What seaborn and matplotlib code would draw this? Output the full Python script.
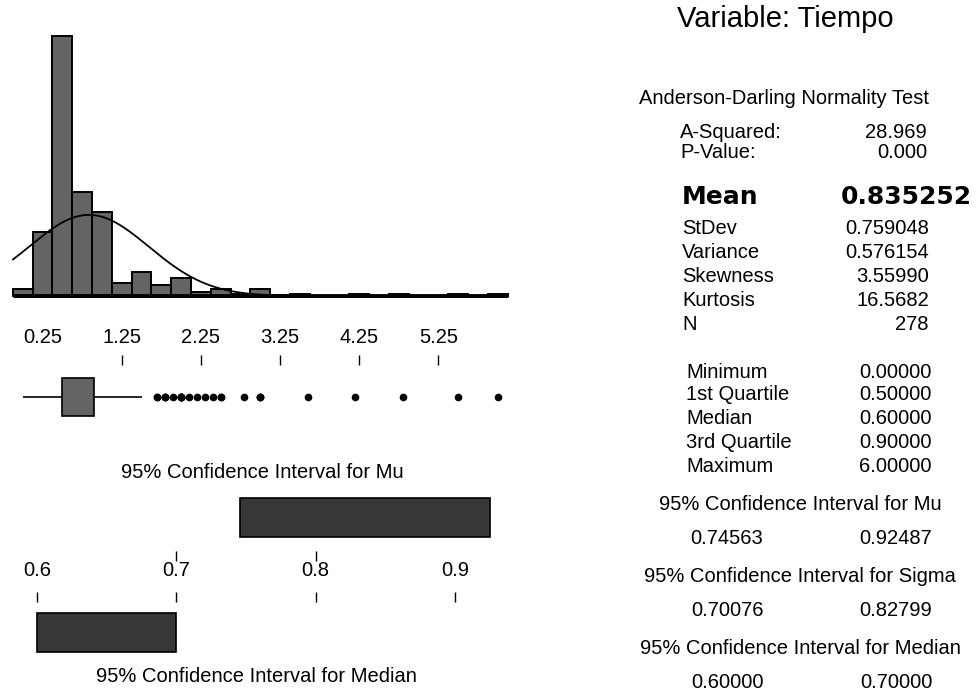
import numpy as np
import matplotlib
matplotlib.use("Agg")
import matplotlib.pyplot as plt
import seaborn as sns

# ---------------- data ----------------
values = [0.0, 0.1, 0.2, 0.3, 0.4, 0.5, 0.6, 0.7, 0.8, 0.9, 1.0, 1.1, 1.2, 1.3,
          1.4, 1.5, 1.7, 1.8, 1.9, 2.0, 2.1, 2.2, 2.3, 2.4, 2.5, 2.8, 3.0, 3.6,
          4.2, 4.8, 5.5, 6.0]
counts = [2, 1, 14, 15, 20, 50, 47, 30, 17, 25, 12, 1, 4, 2,
          5, 6, 2, 3, 1, 6, 1, 1, 1, 1, 2, 1, 3, 1,
          1, 1, 1, 1]
bin_width = 0.25
hist_ticks = [0.25, 1.25, 2.25, 3.25, 4.25, 5.25]
hist_marks = [1.25, 2.25, 3.25, 4.25, 5.25]

mean_val = 0.835252
stdev_val = 0.759048

ci_ticks = [0.6, 0.7, 0.8, 0.9]
ci_upper_marks = [0.7, 0.8]
ci_mu = [0.74563, 0.92487]
ci_sigma = [0.70076, 0.82799]
ci_median = [0.60000, 0.70000]

title = "Variable: Tiempo"
ad_labels = ["A-Squared:", "P-Value:"]
ad_values = ["28.969", "0.000"]
stat_labels = ["StDev", "Variance", "Skewness", "Kurtosis", "N"]
stat_values = ["0.759048", "0.576154", "3.55990", "16.5682", "278"]
quant_labels = ["Minimum", "1st Quartile", "Median", "3rd Quartile", "Maximum"]
quant_values = ["0.00000", "0.50000", "0.60000", "0.90000", "6.00000"]

# ---------------- style ----------------
sns.set_style("white")
plt.rcParams["font.family"] = ["Liberation Sans", "DejaVu Sans"]
plt.rcParams["text.color"] = "black"
plt.rcParams["xtick.color"] = "black"
plt.rcParams["xtick.labelcolor"] = "black"
FS = 14.5
BAR = "#646464"
CIBAR = "#383838"

W, H = 976, 695
fig = plt.figure(figsize=(W / 100, H / 100), dpi=100)


def rect(x0, y0, x1, y1):
    return [x0 / W, 1 - y1 / H, (x1 - x0) / W, (y1 - y0) / H]


def fx(x):
    return x / W


def fy(y):
    return 1 - y / H


px0, ppu = 22.8, 79.15
xlim = (-px0 / ppu, (530 - px0) / ppu)

data = np.repeat(np.array(values), counts)
edges = np.arange(-0.125, 6.126, bin_width)

# ---------------- histogram + normal curve ----------------
ax_h = fig.add_axes(rect(0, 20, 530, 298))
sns.histplot(x=data, bins=edges, ax=ax_h, color=BAR, edgecolor="black",
             linewidth=1.4, alpha=1)
xs = np.linspace(edges[0], edges[-1], 400)
ys = len(data) * bin_width * np.exp(-0.5 * ((xs - mean_val) / stdev_val) ** 2) / (
    stdev_val * np.sqrt(2 * np.pi))
sns.lineplot(x=xs, y=ys, ax=ax_h, color="black", linewidth=1.3)
ax_h.hlines(0, edges[0], edges[-1], color="black", linewidth=3.5)
ax_h.set_xlim(xlim)
ax_h.set_ylim(-0.9, 124.3)
ax_h.axis("off")

# ---------------- boxplot ----------------
ax_b = fig.add_axes(rect(0, 372, 530, 422))
sns.boxplot(x=data, ax=ax_b, color=BAR, saturation=1, width=0.76,
            linecolor="black", linewidth=1.2, fliersize=4.5, showcaps=False,
            medianprops=dict(color=BAR, linewidth=0),
            flierprops=dict(marker="o", markerfacecolor="black",
                            markeredgecolor="black"))
ax_b.set_xlim(xlim)
ax_b.set_ylim(0.5, -0.5)
for s in ax_b.spines.values():
    s.set_visible(False)
ax_b.spines["top"].set_position(("outward", 5))
ax_b.set_yticks([])
ax_b.set_xlabel("")
ax_b.set_ylabel("")
ax_b.xaxis.remove_overlapping_locs = False
ax_b.xaxis.set_ticks_position("top")
ax_b.set_xticks(hist_ticks, [f"{t:.2f}" for t in hist_ticks])
ax_b.set_xticks(hist_marks, minor=True)
ax_b.tick_params(axis="x", which="major", length=0, pad=13, labelsize=FS,
                 top=True, bottom=False, labeltop=True, labelbottom=False)
ax_b.tick_params(axis="x", which="minor", length=7.2, width=1, direction="out",
                 top=True, bottom=False, color="black")

# ---------------- confidence interval panel ----------------
ci_px0, ci_ppu = 37, 1393
ci_xlim = (0.6 - ci_px0 / ci_ppu, 0.6 + (530 - ci_px0) / ci_ppu)
ax_c = fig.add_axes(rect(0, 455, 530, 695))
ax_c.set_xlim(ci_xlim)
ax_c.set_ylim(695, 455)
ax_c.barh([517.5], [ci_mu[1] - ci_mu[0]], left=[ci_mu[0]], height=39,
          color=CIBAR, edgecolor="black", linewidth=1.2)
ax_c.barh([632.5], [ci_median[1] - ci_median[0]], left=[ci_median[0]], height=39,
          color=CIBAR, edgecolor="black", linewidth=1.2)
for s in ax_c.spines.values():
    s.set_visible(False)
ax_c.spines["bottom"].set_position(("data", 592))
ax_c.spines["top"].set_position(("data", 561))
ax_c.set_yticks([])
ax_c.xaxis.remove_overlapping_locs = False
ax_c.set_xticks(ci_ticks)
ax_c.set_xticks(ci_upper_marks, minor=True)
ax_c.tick_params(axis="x", which="major", bottom=True, top=False, length=7.2,
                 width=1, direction="out", labelbottom=False, labeltop=False)
ax_c.tick_params(axis="x", which="minor", bottom=False, top=True, length=7.2,
                 width=1, direction="out")
for t in ci_ticks:
    ax_c.text(t, 571, f"{t:.1f}", ha="center", va="center", fontsize=FS)

fig.text(fx(262), fy(473), "95% Confidence Interval for Mu", ha="center",
         va="center", fontsize=FS)
fig.text(fx(256), fy(677), "95% Confidence Interval for Median", ha="center",
         va="center", fontsize=FS)

# ---------------- right-hand statistics column ----------------
fig.text(fx(785), fy(19), title, ha="center", va="center", fontsize=21)
fig.text(fx(784), fy(98), "Anderson-Darling Normality Test", ha="center",
         va="center", fontsize=FS)
for lab, val, y in zip(ad_labels, ad_values, [132, 153]):
    fig.text(fx(680), fy(y), lab, ha="left", va="center", fontsize=FS)
    fig.text(fx(927), fy(y), val, ha="right", va="center", fontsize=FS)

fig.text(fx(682), fy(197), "Mean", ha="left", va="center", fontsize=18,
         fontweight="bold", family="DejaVu Sans")
fig.text(fx(972), fy(197), f"{mean_val:.6f}", ha="right", va="center",
         fontsize=18, fontweight="bold", family="DejaVu Sans")

for lab, val, y in zip(stat_labels, stat_values, [229, 252, 276, 300, 324]):
    fig.text(fx(682), fy(y), lab, ha="left", va="center", fontsize=FS)
    fig.text(fx(929), fy(y), val, ha="right", va="center", fontsize=FS)

for lab, val, y in zip(quant_labels, quant_values, [372, 395, 418, 442, 466]):
    fig.text(fx(686), fy(y), lab, ha="left", va="center", fontsize=FS)
    fig.text(fx(932), fy(y), val, ha="right", va="center", fontsize=FS)

ci_blocks = [("95% Confidence Interval for Mu", ci_mu, 505, 538),
             ("95% Confidence Interval for Sigma", ci_sigma, 577, 610),
             ("95% Confidence Interval for Median", ci_median, 648, 682)]
for head, (lo, hi), yh, yv in ci_blocks:
    fig.text(fx(800), fy(yh), head, ha="center", va="center", fontsize=FS)
    fig.text(fx(727), fy(yv), f"{lo:.5f}", ha="center", va="center", fontsize=FS)
    fig.text(fx(896), fy(yv), f"{hi:.5f}", ha="center", va="center", fontsize=FS)

fig.savefig("out.png", dpi=100)
